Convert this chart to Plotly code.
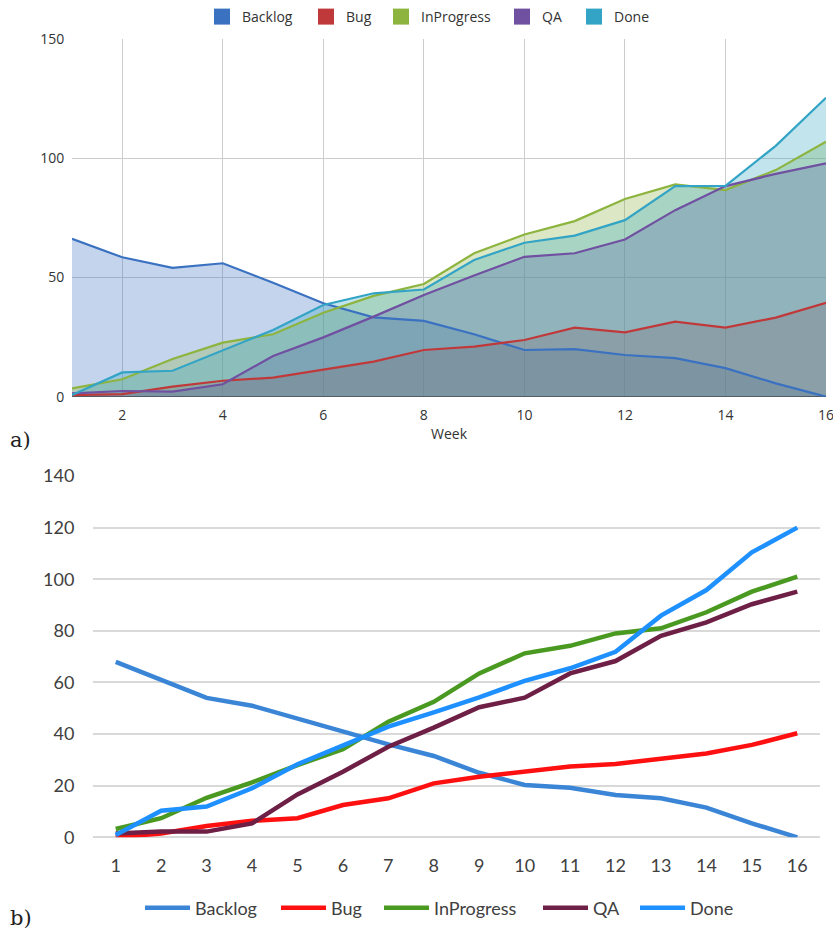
import plotly.graph_objects as go

weeks = list(range(1, 17))
series_names = ["Backlog", "Bug", "InProgress", "QA", "Done"]

# Chart a) (area chart)
a_backlog = [66.3, 58.5, 54.1, 56.0, 47.8, 39.2, 33.3, 31.8, 26.2, 19.6, 20.0, 17.5, 16.2, 12.0, 5.6, 0.0]
a_bug = [0.7, 1.1, 4.2, 6.7, 8.0, 11.5, 14.7, 19.6, 21.0, 23.8, 29.0, 27.0, 31.5, 29.0, 33.2, 39.4]
a_inprogress = [3.5, 7.3, 15.8, 22.7, 26.2, 35.2, 42.3, 47.3, 60.2, 68.1, 73.7, 83.0, 89.1, 86.7, 95.1, 107.0]
a_qa = [1.4, 2.4, 2.1, 5.2, 17.1, 24.9, 33.6, 42.7, 50.9, 58.7, 60.2, 66.0, 78.3, 88.4, 93.5, 97.9]
a_done = [0.7, 10.2, 10.9, 19.6, 28.0, 38.5, 43.4, 45.0, 57.4, 64.6, 67.6, 74.1, 88.4, 88.5, 105.3, 125.5]

# Chart b) (line chart)
b_backlog = [68, 61, 54, 51, 46, 41, 36, 31.5, 25, 20.3, 19.2, 16.4, 15.1, 11.5, 5.4, 0]
b_bug = [0, 1.5, 4.4, 6.4, 7.4, 12.5, 15.1, 20.9, 23.5, 25.4, 27.4, 28.4, 30.3, 32.5, 35.8, 40.3]
b_inprogress = [3.2, 7.4, 15.3, 21.3, 28.0, 34.1, 44.8, 52.5, 63.5, 71.3, 74.2, 79.0, 81.0, 87.2, 95.2, 101.0]
b_qa = [1.5, 2.2, 2.2, 5.4, 16.6, 25.4, 35.1, 42.5, 50.4, 54.1, 63.5, 68.3, 78.1, 83.3, 90.3, 95.2]
b_done = [0.9, 10.3, 11.9, 19.0, 28.3, 35.8, 42.9, 48.4, 54.2, 60.6, 65.5, 71.9, 85.9, 95.8, 110.4, 120.0]

a_colors = ["#3a71c1", "#c0393a", "#8cb43f", "#7050a0", "#33a4c5"]
a_fills = ["rgba(58,113,193,0.3)", "rgba(192,57,58,0.3)", "rgba(140,180,63,0.3)",
           "rgba(112,80,160,0.3)", "rgba(51,164,197,0.3)"]
b_colors = ["#3a85d6", "#ff1010", "#4a9a22", "#6e1f45", "#1e90ff"]

a_data = [a_backlog, a_bug, a_inprogress, a_qa, a_done]
b_data = [b_backlog, b_bug, b_inprogress, b_qa, b_done]

# legend item left positions (px)
a_leg_x = [214, 318, 393, 514, 586]
b_leg_x = [145, 281, 384, 543, 640]

W, H = 833, 934

def px_x(p):
    return p / W

def px_y(p):
    return 1 - p / H

fig = go.Figure()

# fills first
for name, vals, fc in zip(series_names, a_data, a_fills):
    fig.add_trace(go.Scatter(x=weeks, y=vals, mode="lines", fill="tozeroy",
                             fillcolor=fc, line=dict(width=0),
                             showlegend=False, hoverinfo="skip", xaxis="x", yaxis="y"))
# lines on top
for name, vals, col in zip(series_names, a_data, a_colors):
    fig.add_trace(go.Scatter(x=weeks, y=vals, mode="lines",
                             line=dict(color=col, width=2.2),
                             name=name, showlegend=False, xaxis="x", yaxis="y"))

legend_layouts = {}
# legend proxies (square markers) for chart a)
for i, (name, col) in enumerate(zip(series_names, a_colors)):
    lg = "legend" if i == 0 else f"legend{i + 1}"
    fig.add_trace(go.Scatter(x=[None], y=[None], mode="markers",
                             marker=dict(symbol="square", size=16, color=col),
                             name=name, legend=lg, xaxis="x", yaxis="y"))
    legend_layouts[lg] = dict(orientation="h", x=px_x(a_leg_x[i] - 12), xanchor="left",
                              y=px_y(17), yanchor="middle",
                              font=dict(family="Open Sans", size=14, color="#333333"),
                              bgcolor="rgba(0,0,0,0)", itemsizing="trace")

for i, (name, vals, col) in enumerate(zip(series_names, b_data, b_colors)):
    lg = f"legend{i + 6}"
    fig.add_trace(go.Scatter(x=weeks, y=vals, mode="lines",
                             line=dict(color=col, width=4.5),
                             name=name, legend=lg, xaxis="x2", yaxis="y2"))
    legend_layouts[lg] = dict(orientation="h", x=px_x(b_leg_x[i] - 5), xanchor="left",
                              y=px_y(908), yanchor="middle", itemwidth=45,
                              font=dict(family="Lato", size=18, color="#404040"),
                              bgcolor="rgba(0,0,0,0)")

fig.update_layout(
    width=W, height=H,
    margin=dict(l=0, r=0, t=0, b=0, autoexpand=False),
    paper_bgcolor="white", plot_bgcolor="white",
    xaxis=dict(domain=[px_x(72), px_x(826)], range=[1, 16], tick0=0, dtick=2,
               showgrid=True, gridcolor="#cccccc", gridwidth=1, zeroline=False,
               showline=False, ticks="outside", ticklen=5, tickcolor="rgba(0,0,0,0)",
               ticklabeloverflow="allow",
               tickfont=dict(family="Open Sans", size=14, color="#333333"),
               title=dict(text="Week", font=dict(family="Open Sans", size=14, color="#333333"), standoff=6),
               anchor="y"),
    yaxis=dict(domain=[px_y(396.7), px_y(39.3)], range=[0, 150], dtick=50,
               showgrid=True, gridcolor="#cccccc", gridwidth=1,
               zeroline=True, zerolinecolor="#333333", zerolinewidth=1.2,
               showline=False, ticks="outside", ticklen=4, tickcolor="rgba(0,0,0,0)",
               tickfont=dict(family="Open Sans", size=14, color="#333333"),
               anchor="x"),
    xaxis2=dict(domain=[px_x(93), px_x(820)], range=[0.5, 16.5], dtick=1, tick0=1,
                showgrid=False, zeroline=False, showline=False,
                ticks="outside", ticklen=12, tickcolor="rgba(0,0,0,0)",
                tickfont=dict(family="Lato", size=18, color="#404040"),
                anchor="y2"),
    yaxis2=dict(domain=[px_y(837.3), px_y(476)], range=[0, 140], dtick=20,
                showgrid=True, gridcolor="#d9d9d9", gridwidth=1.5,
                zeroline=True, zerolinecolor="#d9d9d9", zerolinewidth=1.5,
                showline=False, ticks="outside", ticklen=14, tickcolor="rgba(0,0,0,0)",
                tickfont=dict(family="Lato", size=18, color="#404040"),
                anchor="x2"),
    annotations=[
        dict(text="a)", xref="paper", yref="paper", x=px_x(8), y=px_y(440),
             xanchor="left", yanchor="middle", showarrow=False,
             font=dict(family="DejaVu Serif", size=21, color="#222222")),
        dict(text="b)", xref="paper", yref="paper", x=px_x(8), y=px_y(918),
             xanchor="left", yanchor="middle", showarrow=False,
             font=dict(family="DejaVu Serif", size=21, color="#222222")),
    ],
    **legend_layouts,
)

fig.write_html("out.html")
